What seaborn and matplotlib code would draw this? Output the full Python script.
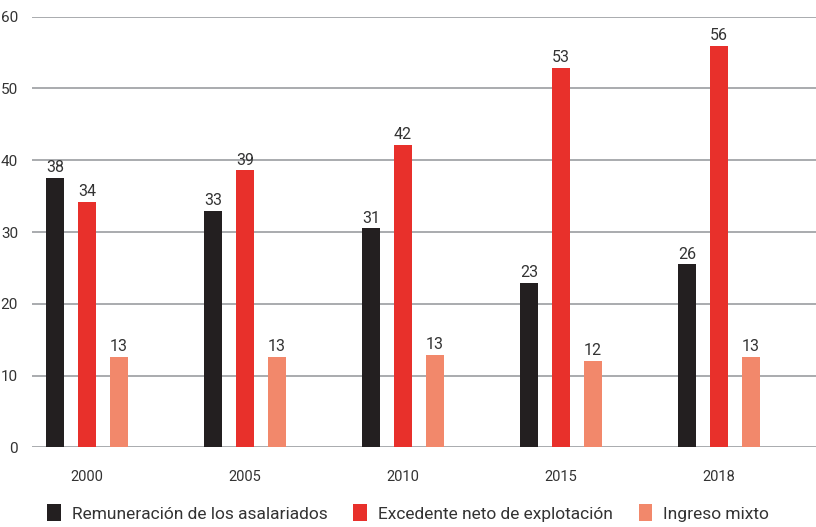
import matplotlib
matplotlib.use("Agg")
import matplotlib.pyplot as plt
import seaborn as sns
import pandas as pd
from matplotlib.patches import Patch

years = ["2000", "2005", "2010", "2015", "2018"]
series = ["Remuneración de los asalariados", "Excedente neto de explotación", "Ingreso mixto"]
remuneracion = [37.5, 32.9, 30.5, 22.9, 25.5]
excedente = [34.2, 38.6, 42.1, 52.9, 55.9]
mixto = [12.6, 12.6, 12.9, 12.0, 12.6]
labels_rem = ["38", "33", "31", "23", "26"]
labels_exc = ["34", "39", "42", "53", "56"]
labels_mix = ["13", "13", "13", "12", "13"]
yticks = [0, 10, 20, 30, 40, 50, 60]

colors = ["#231F20", "#E8302B", "#F2886B"]

df = pd.DataFrame({
    "year": years * 3,
    "serie": [series[0]] * 5 + [series[1]] * 5 + [series[2]] * 5,
    "value": remuneracion + excedente + mixto,
})

sns.set_style("white")
plt.rcParams["font.family"] = ["Roboto", "DejaVu Sans"]

fig = plt.figure(figsize=(8.16, 5.27), dpi=100)
ax = fig.add_axes([32 / 816, 1 - 447.3 / 527, 1 - 32 / 816, (447.3 - 16.7) / 527])

sns.barplot(data=df, x="year", y="value", hue="serie", order=years, hue_order=series,
            palette=colors, width=0.6075, gap=0.467, saturation=1, legend=False, ax=ax,
            linewidth=0, zorder=3)

for cont, labs in zip(ax.containers, [labels_rem, labels_exc, labels_mix]):
    ax.bar_label(cont, labels=labs, padding=2, fontsize=11.5, color="#333333")

ax.set_ylim(0, 60)
ax.set_xlim(-0.348, 4.614)
ax.set_yticks(yticks)
ax.yaxis.grid(True, color="#A3A5A8", linewidth=1.3, zorder=0)
ax.set_axisbelow(True)
for s in ax.spines.values():
    s.set_visible(False)
ax.set_xlabel("")
ax.set_ylabel("")
ax.tick_params(axis="y", length=0, pad=10, labelsize=11, labelcolor="#333333")
ax.tick_params(axis="x", length=0, pad=16, labelsize=10.5, labelcolor="#333333")

handles = [Patch(facecolor=c, edgecolor="none") for c in colors]
fig.legend(handles, series, loc="center", bbox_to_anchor=(0.5, 1 - 513 / 527), ncol=3,
           frameon=False, fontsize=12.5, handlelength=0.8, handleheight=1.1,
           handletextpad=0.6, columnspacing=1.5, labelcolor="#333333")

fig.savefig("out.png", dpi=100)
